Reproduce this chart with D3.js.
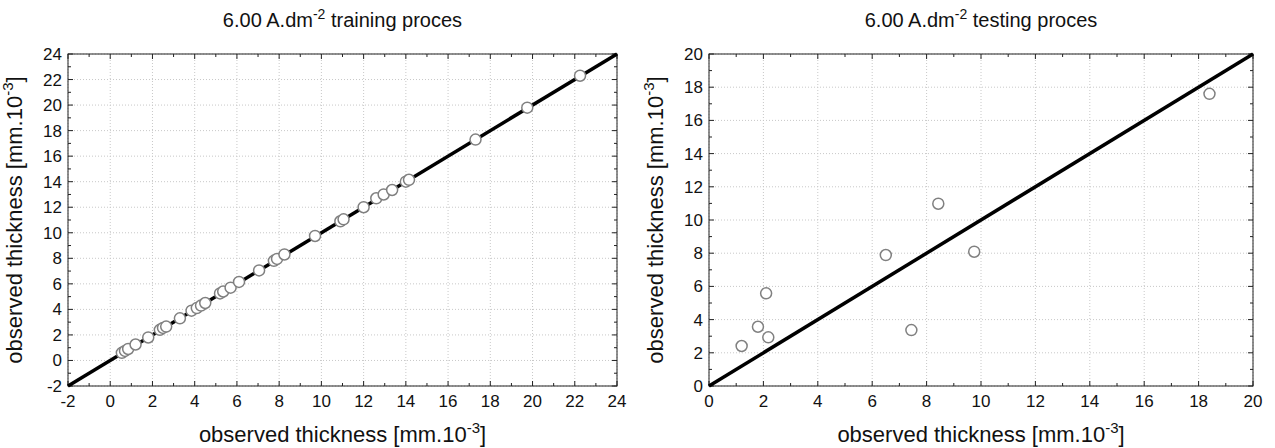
<!DOCTYPE html>
<html>
<head>
<meta charset="utf-8">
<script src="https://cdn.jsdelivr.net/npm/d3@7"></script>
<style>
  body { margin: 0; background: #fff; }
  text { font-family: "Liberation Sans", Arial, sans-serif; fill: #111; }
</style>
</head>
<body>
<svg id="chart" width="1275" height="448"></svg>
<script>
// training set: observed vs predicted thickness
const trainObserved = [0.55, 0.7, 0.85, 1.2, 1.8, 2.35, 2.5, 2.65, 3.3, 3.85, 4.1, 4.3, 4.5, 5.2, 5.35, 5.7, 6.1,
    7.05, 7.75, 7.9, 8.25, 9.7, 10.9, 11.05, 12.0, 12.6, 12.95, 13.35, 14.0, 14.15, 17.3, 19.75, 22.25];
const trainPredicted = [0.6, 0.75, 0.9, 1.25, 1.8, 2.4, 2.55, 2.65, 3.3, 3.9, 4.1, 4.3, 4.5, 5.25, 5.4, 5.7, 6.15,
    7.05, 7.8, 7.95, 8.3, 9.75, 10.9, 11.05, 12.0, 12.7, 13.0, 13.35, 14.0, 14.15, 17.3, 19.8, 22.3];

// testing set
const testObserved = [1.2, 1.8, 2.1, 2.18, 6.5, 7.44, 8.43, 9.75, 18.4];
const testPredicted = [2.41, 3.57, 5.58, 2.93, 7.89, 3.37, 10.98, 8.09, 17.6];

const trainTicks = d3.range(-2, 25, 2);
const testTicks = d3.range(0, 21, 2);

const svg = d3.select("#chart");

function drawPanel(opt) {
    const x = d3.scaleLinear().domain(opt.domain).range([opt.left, opt.right]);
    const y = d3.scaleLinear().domain(opt.domain).range([opt.bottom, opt.top]);
    const g = svg.append("g");
    const minor = d3.range(opt.domain[0], opt.domain[1] + 0.5, 1);

    // dotted grid
    g.selectAll(".gx").data(opt.ticks).enter().append("line")
        .attr("x1", d => x(d)).attr("x2", d => x(d))
        .attr("y1", opt.top).attr("y2", opt.bottom)
        .attr("stroke", "#c8c8c8").attr("stroke-dasharray", "1,2");
    g.selectAll(".gy").data(opt.ticks).enter().append("line")
        .attr("y1", d => y(d)).attr("y2", d => y(d))
        .attr("x1", opt.left).attr("x2", opt.right)
        .attr("stroke", "#c8c8c8").attr("stroke-dasharray", "1,2");

    // inward ticks on all four sides
    const len = d => (d % 2 === 0 ? 5 : 3);
    minor.forEach(d => {
        g.append("line").attr("x1", x(d)).attr("x2", x(d)).attr("y1", opt.bottom).attr("y2", opt.bottom - len(d)).attr("stroke", "#222");
        g.append("line").attr("x1", x(d)).attr("x2", x(d)).attr("y1", opt.top).attr("y2", opt.top + len(d)).attr("stroke", "#222");
        g.append("line").attr("y1", y(d)).attr("y2", y(d)).attr("x1", opt.left).attr("x2", opt.left + len(d)).attr("stroke", "#222");
        g.append("line").attr("y1", y(d)).attr("y2", y(d)).attr("x1", opt.right).attr("x2", opt.right - len(d)).attr("stroke", "#222");
    });

    // tick labels
    g.selectAll(".tx").data(opt.ticks).enter().append("text")
        .attr("x", d => x(d)).attr("y", opt.bottom + 21)
        .attr("text-anchor", "middle").style("font-size", "17px")
        .text(d => d);
    g.selectAll(".ty").data(opt.ticks).enter().append("text")
        .attr("x", opt.left - 6).attr("y", d => y(d) + 6)
        .attr("text-anchor", "end").style("font-size", "17px")
        .text(d => d);

    // frame
    g.append("rect").attr("x", opt.left).attr("y", opt.top)
        .attr("width", opt.right - opt.left).attr("height", opt.bottom - opt.top)
        .attr("fill", "none").attr("stroke", "#222");

    // y = x line
    g.append("line")
        .attr("x1", x(opt.domain[0])).attr("y1", y(opt.domain[0]))
        .attr("x2", x(opt.domain[1])).attr("y2", y(opt.domain[1]))
        .attr("stroke", "#000").attr("stroke-width", 3.5);

    // points
    g.selectAll(".pt").data(opt.xs).enter().append("circle")
        .attr("cx", d => x(d)).attr("cy", (d, i) => y(opt.ys[i]))
        .attr("r", 5.5).attr("fill", "#fff")
        .attr("stroke", "#808080").attr("stroke-width", 1.5);

    // title
    const t = g.append("text").attr("x", (opt.left + opt.right) / 2).attr("y", 27)
        .attr("text-anchor", "middle").style("font-size", "20px");
    t.append("tspan").text("6.00 A.dm");
    t.append("tspan").attr("dy", -8).style("font-size", "14px").text("-2");
    t.append("tspan").attr("dy", 8).text(" " + opt.title);

    // axis titles
    const xl = g.append("text").attr("x", (opt.left + opt.right) / 2).attr("y", 442)
        .attr("text-anchor", "middle").style("font-size", "22px");
    xl.append("tspan").text("observed thickness [mm.10");
    xl.append("tspan").attr("dy", -9).style("font-size", "15px").text("-3");
    xl.append("tspan").attr("dy", 9).text("]");

    const yl = g.append("text")
        .attr("transform", `translate(${opt.left - 46},${(opt.top + opt.bottom) / 2}) rotate(-90)`)
        .attr("text-anchor", "middle").style("font-size", "22px");
    yl.append("tspan").text("observed thickness [mm.10");
    yl.append("tspan").attr("dy", -9).style("font-size", "15px").text("-3");
    yl.append("tspan").attr("dy", 9).text("]");
}

drawPanel({ domain: [-2, 24], ticks: trainTicks, left: 68, right: 617, top: 54, bottom: 386,
    xs: trainObserved, ys: trainPredicted, title: "training proces" });
drawPanel({ domain: [0, 20], ticks: testTicks, left: 709, right: 1253, top: 54, bottom: 386,
    xs: testObserved, ys: testPredicted, title: "testing proces" });
</script>
</body>
</html>
